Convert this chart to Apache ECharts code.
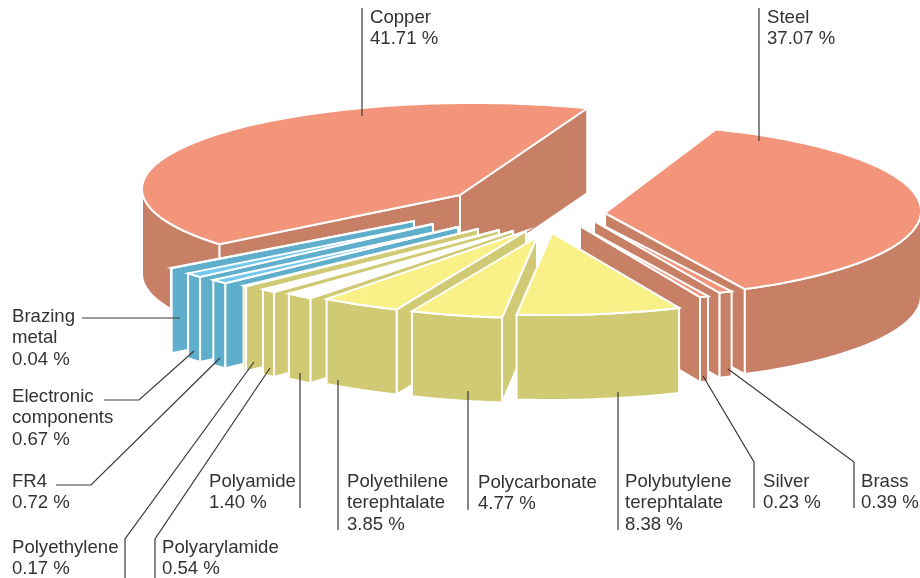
<!DOCTYPE html>
<html>
<head>
<meta charset="utf-8">
<style>html,body{margin:0;padding:0;background:#fff}#c{width:920px;height:578px}</style>
<script src="https://cdn.jsdelivr.net/npm/echarts@6/dist/echarts.min.js"></script>
</head>
<body>
<div id="c"></div>
<script>
// ---- data (clockwise from the top of the pie) ----
var categories = ['Steel','Brass','Silver','Polybutylene\nterephtalate','Polycarbonate','Polyethilene\nterephtalate','Polyamide','Polyarylamide','Polyethylene','FR4','Electronic\ncomponents','Brazing\nmetal','Copper'];
var values = [37.07,0.39,0.23,8.38,4.77,3.85,1.40,0.54,0.17,0.72,0.67,0.04,41.71];

// ---- look and layout, same order as the data ----
var FILL = {
  copper:{top:'#F2957A',side:'#C77F66'},
  yellow:{top:'#FAF088',side:'#D1CA74'},
  blue:{top:'#74C8EE',side:'#5FAECB'}
};
var family = ['copper','copper','copper','yellow','yellow','yellow','yellow','yellow','yellow','blue','blue','blue','copper'];
var whiteTop = [0,0,0,0,0,0,1,1,0,0,0,0,0];
var tips = [[605,213],[594,221],[580,226],[552,233],[537,237],[526,231],[513,231],[499,230],[478,229],[458,227],[433,224],[414,221],[460,195]];
var arcCentres = [[606,211],[589,218],[573,222],[551,233],[536,236],[521,234],[503,233],[486.5,231],[468,227.6],[448.6,224.8],[432.8,221],[414.6,215.3],[473,189]];
var radii = [[315,87],[318,82],[318,82],[316,82],[312,82],[318,82],[318,82],[318,82],[318,82],[318,82],[318,82],[318,82],[331,86]];
var widenDeg = [0,1,0.75,0,0,0.8,0,0.8,0,0.5,0.85,0,0];
var drawOrder = [12,0,11,10,9,8,7,6,5,4,1,2,3];
var startDeg = 69.6, depth = 85;

var labelAt = [[767,7],[861,471],[763,471],[625,471],[478,472],[347,471],[209,471],[162,537],[12,537],[12,471],[12,386],[12,306],[370,7]];
var leaders = [
  [[759,8],[759,141]],
  [[854,508],[854,462],[728,369]],
  [[754,508],[754,462],[703,376]],
  [[618,530],[618,392]],
  [[468,510],[468,391]],
  [[338,530],[338,380]],
  [[300,508],[300,373]],
  [[155,578],[155,539],[270,368]],
  [[125,578],[125,539],[254,362]],
  [[56,485],[91,485],[220,358]],
  [[104,400],[139,400],[194,351]],
  [[82,318],[180,318]],
  [[362,8],[362,116]]
];

// ---- angle of every slice, from the values ----
var spans = values.map(function(v){return v*3.6;});
var hi = [], lo = [];
(function(){var a=startDeg;spans.forEach(function(s,i){hi[i]=a+widenDeg[i]/2;lo[i]=a-s-widenDeg[i]/2;a-=s;});})();

function arcPt(i,deg){
  var r=deg*Math.PI/180,c=arcCentres[i],R=radii[i];
  return [c[0]+R[0]*Math.cos(r),c[1]-R[1]*Math.sin(r)];
}
function arcPts(i,from,to){
  var n=Math.max(1,Math.ceil(Math.abs(to-from)/1.5)),out=[];
  for(var k=0;k<=n;k++)out.push(arcPt(i,from+(to-from)*k/n));
  return out;
}
function down(pts){return pts.slice().reverse().map(function(p){return [p[0],p[1]+depth];});}
function face(points,fill,sw){
  return {type:'polygon',shape:{points:points},style:{fill:fill,stroke:'#fff',lineWidth:sw,lineJoin:'miter'}};
}
function renderSlice(params,api){
  var i=api.value(0), col=FILL[family[i]], tip=tips[i], kids=[];
  var sw=2;
  var A=arcPt(i,lo[i]),B=arcPt(i,hi[i]);
  function radial(corner,other){
    var dx=corner[0]-tip[0],dy=corner[1]-tip[1];
    var nx=-dy,ny=dx;
    if(nx*(other[0]-tip[0])+ny*(other[1]-tip[1])>0){nx=-nx;ny=-ny;}
    if(ny>0){
      var e=[tip,corner];
      kids.push(face(e.concat(down(e)),col.side,sw));
    }
  }
  radial(A,B);radial(B,A);
  // rim: only the stretch of the arc on the viewer's side (-180..0 degrees)
  var f=Math.max(lo[i],-180),t=Math.min(hi[i],0);
  if(t>f){
    var e=arcPts(i,f,t);
    kids.push(face(e.concat(down(e)),col.side,sw));
  }
  var topFill=whiteTop[i]?'#fff':col.top;
  kids.push(face([tip].concat(arcPts(i,lo[i],hi[i])),topFill,sw));
  return {type:'group',children:kids};
}
function renderLabel(params,api){
  var i=api.value(0);
  return {type:'group',children:[
    {type:'polyline',shape:{points:leaders[i]},style:{fill:null,stroke:'#3a3a3a',lineWidth:1.2}},
    {type:'text',x:labelAt[i][0],y:labelAt[i][1],style:{
      text:categories[i]+'\n'+values[i].toFixed(2)+' %',
      fill:'#333',font:'18.6px "Liberation Sans", Arial, sans-serif',lineHeight:21.5,
      textAlign:'left',textVerticalAlign:'top'
    }}
  ]};
}
var chart=echarts.init(document.getElementById('c'),null,{renderer:'canvas'});
chart.setOption({
  animation:false,
  backgroundColor:'#fff',
  series:[
    {type:'custom',coordinateSystem:'none',silent:true,clip:false,renderItem:renderSlice,
     dimensions:['index','value'],encode:{},
     data:drawOrder.map(function(i){return [i,values[i]];}),z:2},
    {type:'custom',coordinateSystem:'none',silent:true,clip:false,renderItem:renderLabel,
     dimensions:['index','value'],encode:{},
     data:values.map(function(v,i){return [i,v];}),z:3}
  ]
});
</script>
</body>
</html>
